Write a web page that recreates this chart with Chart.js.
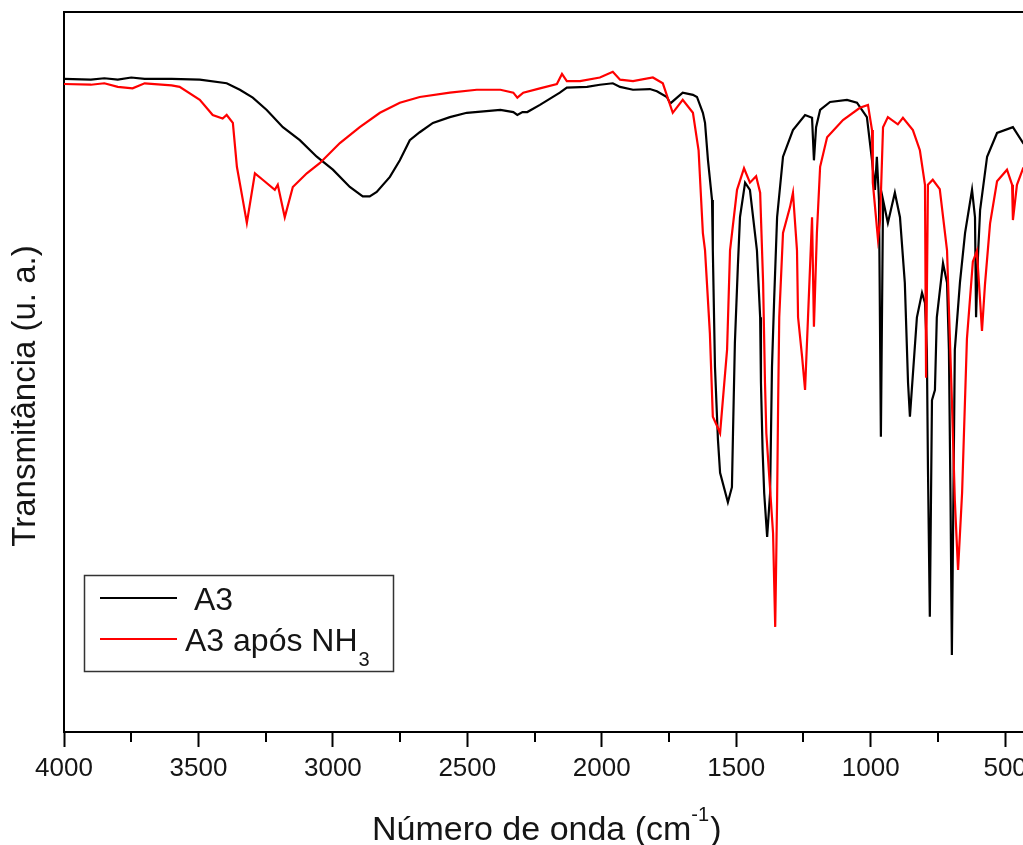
<!DOCTYPE html>
<html lang="pt">
<head>
<meta charset="utf-8">
<title>Transmitância FTIR — A3</title>
<script src="https://cdn.jsdelivr.net/npm/chart.js@4.4.1/dist/chart.umd.min.js"></script>
<style>
    html, body { margin: 0; padding: 0; background: #fff; overflow: hidden; }
    #wrap { width: 1040px; height: 845px; }
</style>
</head>
<body>
<div id="wrap"><canvas id="irChart" width="1040" height="845"></canvas></div>
<script>
'use strict';

var A3_WAVE = [4000, 3900, 3850, 3800, 3750, 3700, 3600, 3495, 3395, 3346, 3298, 3246, 3186, 3123, 3060,
    3000, 2937, 2889, 2863, 2837, 2788, 2751, 2714, 2677, 2628, 2565, 2502, 2377, 2329, 2314, 2295,
    2277, 2230, 2156, 2130, 2055, 2007, 1959, 1932, 1884, 1821, 1795, 1758, 1745, 1699, 1661, 1646,
    1624, 1616, 1605, 1590, 1587, 1579, 1568, 1560, 1531, 1516, 1512, 1505, 1494, 1486, 1467, 1449,
    1423, 1411, 1408, 1402, 1396, 1385, 1374, 1367, 1359, 1348, 1326, 1289, 1244, 1218, 1211, 1203,
    1188, 1151, 1088, 1051, 1014, 995, 984, 977, 969, 962, 954, 936, 910, 891, 873, 861,
    854, 828, 809, 798, 791, 787, 780, 772, 761, 754, 731, 716, 709, 703, 698, 687,
    668, 649, 623, 612, 608, 601, 593, 567, 530, 471, 433, 400];
var A3_T = [90.7, 90.6, 90.8, 90.6, 90.9, 90.7, 90.7, 90.6, 90.1, 89.2, 88.1, 86.4, 84.0, 82.2, 79.9,
    78.1, 75.7, 74.4, 74.4, 75.0, 77.1, 79.4, 82.2, 83.3, 84.6, 85.4, 86.0, 86.4, 86.1, 85.7, 86.1,
    86.1, 87.1, 88.8, 89.5, 89.6, 89.9, 90.1, 89.6, 89.2, 89.3, 89.0, 88.2, 87.3, 88.8, 88.5, 88.2,
    86.0, 84.6, 79.4, 73.9, 66.9, 50.7, 40.6, 36.0, 31.9, 34.0, 41.5, 54.0, 64.6, 71.5, 76.3, 75.3,
    66.9, 57.6, 48.5, 39.2, 33.2, 27.1, 33.2, 50.7, 60.0, 71.5, 79.9, 83.6, 85.7, 85.3, 79.4, 84.0,
    86.4, 87.5, 87.8, 87.4, 85.4, 79.4, 75.3, 79.9, 73.9, 41.0, 73.9, 70.7, 74.9, 71.5, 62.4, 48.5,
    43.8, 57.6, 61.0, 59.6, 53.1, 36.8, 16.0, 46.1, 47.5, 57.6, 65.1, 62.4, 53.1, 32.2, 10.7, 53.1,
    62.4, 69.3, 75.3, 71.5, 57.6, 66.0, 72.5, 79.9, 83.2, 84.0, 81.8, 80.5];

var NH3_WAVE = [4000, 3900, 3850, 3800, 3745, 3700, 3600, 3570, 3495, 3447, 3410, 3395, 3372, 3357, 3335,
    3320, 3290, 3261, 3216, 3205, 3179, 3149, 3097, 3049, 2974, 2900, 2825, 2751, 2677, 2565, 2465,
    2377, 2329, 2314, 2292, 2230, 2167, 2148, 2130, 2081, 2007, 1959, 1932, 1884, 1810, 1773, 1736,
    1699, 1661, 1640, 1624, 1616, 1598, 1587, 1570, 1560, 1534, 1523, 1497, 1471, 1449, 1426, 1411,
    1400, 1393, 1388, 1363, 1355, 1348, 1344, 1340, 1326, 1300, 1289, 1274, 1270, 1255, 1244, 1233,
    1218, 1211, 1200, 1188, 1162, 1103, 1040, 1010, 995, 992, 973, 965, 954, 936, 899, 880,
    843, 817, 798, 794, 787, 769, 743, 716, 698, 687, 675, 660, 642, 620, 605, 593,
    586, 575, 556, 530, 493, 474, 471, 456, 433, 400];
var NH3_T = [90.0, 89.9, 90.1, 89.6, 89.4, 90.1, 89.8, 89.6, 87.8, 85.7, 85.2, 85.7, 84.6, 78.5, 73.9,
    70.7, 77.6, 76.7, 75.3, 76.0, 71.5, 75.7, 77.6, 79.0, 81.8, 84.0, 86.0, 87.4, 88.2, 88.8, 89.2,
    89.2, 88.8, 88.1, 88.8, 89.4, 90.0, 91.4, 90.4, 90.4, 90.9, 91.7, 90.6, 90.4, 90.9, 90.1, 86.0,
    87.8, 86.0, 80.8, 69.3, 66.9, 55.4, 43.8, 42.4, 41.5, 53.1, 66.9, 75.3, 78.3, 76.3, 77.2, 74.9,
    62.4, 48.5, 41.5, 27.6, 14.6, 32.2, 46.1, 57.6, 69.3, 72.9, 74.9, 66.9, 57.6, 52.1, 47.5, 57.6,
    71.5, 56.3, 69.3, 78.5, 82.6, 85.0, 86.7, 87.1, 83.6, 76.3, 68.5, 71.1, 84.0, 85.4, 84.4, 85.3,
    83.6, 80.8, 76.0, 49.2, 76.0, 76.7, 75.4, 66.9, 46.1, 32.2, 22.5, 33.2, 54.6, 65.3, 66.8, 59.9,
    55.7, 62.1, 70.6, 76.5, 78.1, 76.0, 71.1, 76.0, 78.3, 78.5];

var SERIES_NAMES = [' A3', 'A3 após NH'];
var SERIES_SUB = ['', '3'];
var SERIES_COLORS = ['#000000', '#ff0000'];

var X_TICKS = [4000, 3500, 3000, 2500, 2000, 1500, 1000, 500];
var X_MINOR = [3750, 3250, 2750, 2250, 1750, 1250, 750];
var X_TITLE = ['Número de onda (cm', '-1', ')'];
var Y_TITLE = 'Transmitância (u. a.)';

var FONT = "'Liberation Sans', Arial, sans-serif";
var INK = '#151515';

function toPoints(xs, ys) {
    return xs.map(function (x, i) { return { x: x, y: ys[i] }; });
}

/* ── moldura, ticks menores, títulos dos eixos e legenda ── */
var irDecor = {
    id: 'irDecor',
    afterDraw: function (chart) {
        var ctx = chart.ctx;
        var a = chart.chartArea;
        var xs = chart.scales.x;
        ctx.save();

        // moldura (topo e direita)
        ctx.strokeStyle = '#000';
        ctx.lineWidth = 2;
        ctx.beginPath();
        ctx.moveTo(a.left, a.top);
        ctx.lineTo(a.right, a.top);
        ctx.lineTo(a.right, a.bottom);
        ctx.stroke();

        // ticks menores
        X_MINOR.forEach(function (v) {
            var px = Math.round(xs.getPixelForValue(v));
            ctx.beginPath();
            ctx.moveTo(px, a.bottom);
            ctx.lineTo(px, a.bottom + 10);
            ctx.stroke();
        });

        ctx.fillStyle = INK;
        ctx.textAlign = 'left';
        ctx.textBaseline = 'alphabetic';

        // título do eixo x com expoente
        ctx.font = '34px ' + FONT;
        var w1 = ctx.measureText(X_TITLE[0]).width;
        var w3 = ctx.measureText(X_TITLE[2]).width;
        ctx.font = '20px ' + FONT;
        var w2 = ctx.measureText(X_TITLE[1]).width;
        var x0 = 372;
        var base = 840;
        ctx.font = '34px ' + FONT;
        ctx.fillText(X_TITLE[0], x0, base);
        ctx.font = '20px ' + FONT;
        ctx.fillText(X_TITLE[1], x0 + w1, base - 19);
        ctx.font = '34px ' + FONT;
        ctx.fillText(X_TITLE[2], x0 + w1 + w2 + 1, base);

        // título do eixo y (rodado)
        ctx.save();
        ctx.translate(35, (a.top + a.bottom) / 2 + 24);
        ctx.rotate(-Math.PI / 2);
        ctx.textAlign = 'center';
        ctx.font = '33px ' + FONT;
        ctx.fillText(Y_TITLE, 0, 0);
        ctx.restore();

        // legenda
        var lx = a.left + 20, ly = a.bottom - 157;
        ctx.strokeStyle = '#333';
        ctx.lineWidth = 1.5;
        ctx.strokeRect(lx + 0.5, ly + 0.5, 309, 96);
        SERIES_NAMES.forEach(function (name, i) {
            var y = ly + 23 + i * 41;
            ctx.strokeStyle = SERIES_COLORS[i];
            ctx.lineWidth = 2;
            ctx.beginPath();
            ctx.moveTo(lx + 16, y);
            ctx.lineTo(lx + 93, y);
            ctx.stroke();
            ctx.fillStyle = INK;
            ctx.font = '32px ' + FONT;
            ctx.fillText(name, lx + 101, y + 12);
            if (SERIES_SUB[i]) {
                var nw = ctx.measureText(name).width;
                ctx.font = '20px ' + FONT;
                ctx.fillText(SERIES_SUB[i], lx + 101 + nw + 1, y + 27);
            }
        });

        ctx.restore();
    }
};

new Chart(document.getElementById('irChart'), {
    type: 'line',
    data: {
        datasets: [{
            label: SERIES_NAMES[1] + SERIES_SUB[1],
            data: toPoints(NH3_WAVE, NH3_T),
            borderColor: SERIES_COLORS[1],
            borderWidth: 2.2,
            pointRadius: 0,
            tension: 0,
            order: 0
        }, {
            label: SERIES_NAMES[0].trim(),
            data: toPoints(A3_WAVE, A3_T),
            borderColor: SERIES_COLORS[0],
            borderWidth: 2.2,
            pointRadius: 0,
            tension: 0,
            order: 1
        }]
    },
    options: {
        responsive: false,
        animation: false,
        devicePixelRatio: 1,
        layout: { padding: { top: 12, right: 8, left: 0, bottom: 0 } },
        plugins: {
            legend: { display: false },
            tooltip: { enabled: false }
        },
        scales: {
            x: {
                type: 'linear',
                reverse: true,
                min: 400,
                max: 4000,
                afterBuildTicks: function (s) {
                    s.ticks = X_TICKS.map(function (v) { return { value: v }; });
                },
                afterFit: function (s) { s.height = 113; },
                ticks: {
                    color: INK,
                    font: { family: FONT, size: 26 },
                    padding: 6,
                    maxRotation: 0,
                    autoSkip: false,
                    callback: function (v) { return String(v); }
                },
                grid: {
                    display: true,
                    drawOnChartArea: false,
                    tickLength: 15,
                    tickWidth: 2,
                    tickColor: '#000'
                },
                border: { display: true, color: '#000', width: 2 }
            },
            y: {
                min: 0,
                max: 100,
                afterFit: function (s) { s.width = 64; },
                ticks: { display: false },
                grid: { display: false },
                border: { display: true, color: '#000', width: 2 }
            }
        }
    },
    plugins: [irDecor]
});
</script>
</body>
</html>
